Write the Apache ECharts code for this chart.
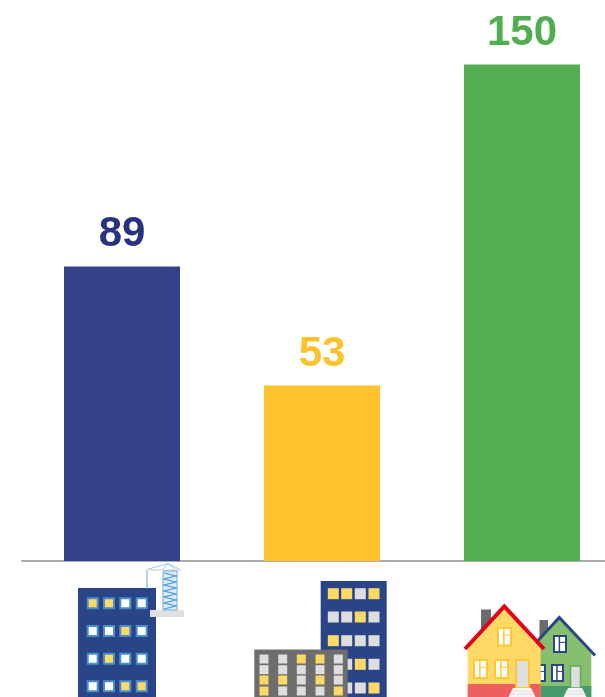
<!DOCTYPE html>
<html>
<head>
<meta charset="utf-8">
<style>
    html, body { margin: 0; padding: 0; background: #fff; }
    #chart { width: 605px; height: 697px; }
</style>
<script src="https://cdn.jsdelivr.net/npm/echarts@6/dist/echarts.min.js"></script>
</head>
<body>
<div id="chart"></div>
<script type="text/javascript">
    // no category names in the picture, the icons under the axis stand in for them
    const categories = ['office', 'apartments', 'houses'];
    const values = [89, 53, 150];
    const barColors = ['#344187', '#FFC12C', '#51AF51'];
    const labelColors = ['#27337F', '#FFC12C', '#4EAE50'];

    const YELLOW = '#FFD966';
    const GREY = '#DEDEDE';
    const NAVY = '#2A4488';

    let icons = [];

    function rect(x, y, w, h, fill, stroke, lw) {
        icons.push({
            type: 'rect',
            shape: {x: x, y: y, width: w, height: h},
            style: {fill: fill, stroke: stroke || null, lineWidth: lw || 0}
        });
    }

    function line(points, stroke, lw, fill) {
        icons.push({
            type: fill ? 'polygon' : 'polyline',
            shape: {points: points},
            style: {fill: fill || null, stroke: stroke || null, lineWidth: lw || 0}
        });
    }

    // '1' = lit window, '0' = unlit
    function windows(xs, ys, rows, size, off, frame) {
        rows.forEach(function (row, r) {
            row.split('').forEach(function (c, i) {
                let fill = c === '1' ? YELLOW : off;
                if (frame) {
                    rect(xs[i] - size / 2 + 1, ys[r] - size / 2 + 1, size - 2, size - 2, fill, frame, 2);
                } else {
                    rect(xs[i] - size / 2, ys[r] - size / 2, size, size, fill);
                }
            });
        });
    }

    function houseWindow(x, y, w, h, frame) {
        rect(x, y, w, h, '#fff', frame, 2);
        line([[x + w * 0.45, y], [x + w * 0.45, y + h]], frame, 1.5);
        line([[x + w * 0.45, y + h * 0.4], [x + w, y + h * 0.4]], frame, 1);
    }

    function steps(x1, x2, y) {
        line([[x1 + 5, y], [x2 - 5, y], [x2, 698], [x1, 698]], null, 0, '#F4F4F4');
        line([[x1 + 3, y + 3], [x2 - 3, y + 3]], '#D8D8D8', 0.7);
        line([[x1 + 1.5, y + 6], [x2 - 1.5, y + 6]], '#D8D8D8', 0.7);
    }

    function drawOffice() {
        rect(78, 588, 78, 110, NAVY);
        windows([92.7, 109, 125.3, 141.7], [603.3, 631, 658.7, 686.3],
            ['1100', '0010', '0100', '0011'], 12, '#fff', '#4A90C8');
        // crane
        rect(150, 610, 34, 7, '#E0E0E0');
        line([[145, 570], [168, 563.5], [181, 570]], '#9CC8E8', 1);
        line([[162, 570], [168, 563.5], [176, 570]], '#9CC8E8', 1);
        rect(145, 569, 36, 2, '#E4E4E4');
        rect(163, 571, 14, 39, '#DCEBF7', '#6FB0E0', 1);
        let zig = [];
        for (let y = 573, i = 0; y < 610; y += 3, i++) {
            zig.push([i % 2 ? 176 : 164, y]);
        }
        line(zig, '#4A98D8', 1.2);
        line([[147, 571], [147, 589]], '#5BA3DC', 1);
    }

    function drawApartments() {
        rect(320.7, 581, 66, 117, NAVY);
        windows([333.3, 346.7, 360.3, 374], [593.7, 617, 640.7, 664.3, 688],
            ['1101', '0010', '1000', '0010', '0001'], 11, GREY);
        rect(254.3, 649.5, 93.4, 48, '#6D6D6D');
        windows([264, 282.7, 301.3, 320, 338.3], [659, 669.7, 680, 691],
            ['00110', '00000', '11010', '10001'], 9, GREY);
    }

    function drawHouses() {
        // back house
        rect(539.5, 620, 8.5, 22, '#6B6B6B');
        line([[559.3, 618], [591.3, 654], [591.3, 698], [535, 698], [535, 645]], null, 0, '#85BE6C');
        rect(535, 686, 56.3, 12, '#459B69');
        line([[538, 640.5], [559.3, 617.5], [595, 655.5]], '#2A4488', 3);
        houseWindow(554, 636, 12, 16, '#2A4488');
        houseWindow(552, 665, 11, 16, '#2A4488');
        houseWindow(535, 665, 10, 16, '#2A4488');
        rect(570.5, 666, 10, 22, GREY, '#5FA868', 1.5);
        steps(563, 587, 688);
        // front house
        rect(481, 609.5, 10, 30, '#6B6B6B');
        line([[504.3, 607], [540.7, 648], [540.7, 698], [467.7, 698], [467.7, 648]], null, 0, YELLOW);
        rect(467.7, 684, 73, 14, '#EE6060');
        line([[465, 649], [504.3, 606.5], [544, 649]], '#E2001A', 4);
        houseWindow(498, 628, 13, 17.5, '#FFC832');
        houseWindow(474, 660, 13, 18, '#FFC832');
        houseWindow(495, 660, 13, 18, '#FFC832');
        rect(516, 660, 13, 28, GREY, '#FFC832', 2);
        steps(508, 536, 688);
    }

    drawOffice();
    drawApartments();
    drawHouses();

    let myChart = echarts.init(document.getElementById('chart'));
    let option = {
        animation: false,
        grid: {left: 22, width: 600, top: 64.5, bottom: 136, outerBoundsMode: 'none'},
        xAxis: {
            type: 'category',
            data: categories,
            axisLine: {lineStyle: {color: '#ABABAB', width: 2}},
            axisTick: {show: false},
            axisLabel: {show: false}
        },
        yAxis: {
            type: 'value',
            min: 0,
            max: 150,
            show: false
        },
        series: [{
            type: 'bar',
            barWidth: 116,
            z: 3,
            data: values.map(function (v, i) {
                return {
                    value: v,
                    itemStyle: {color: barColors[i]},
                    label: {color: labelColors[i]}
                };
            }),
            label: {
                show: true,
                position: 'top',
                distance: 10.5,
                fontFamily: 'Liberation Sans',
                fontWeight: 'bold',
                fontSize: 42
            }
        }],
        graphic: {elements: icons}
    };
    myChart.setOption(option);
</script>
</body>
</html>
